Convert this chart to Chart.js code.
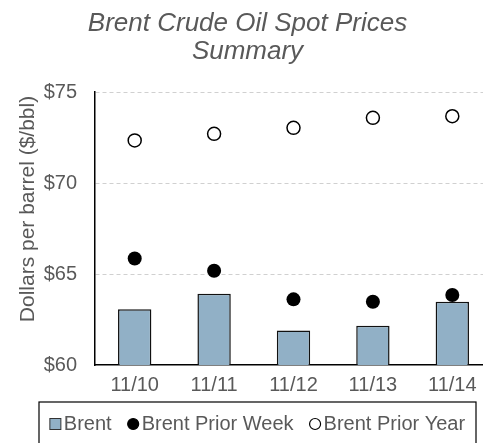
<!DOCTYPE html>
<html>
<head>
<meta charset="utf-8">
<script src="https://cdn.jsdelivr.net/npm/chart.js@4.4.0/dist/chart.umd.min.js"></script>
<style>
  html, body { margin: 0; padding: 0; background: #fff; overflow: hidden; }
  #wrap { width: 483px; height: 443px; overflow: hidden; }
  #wrap div { width: 500px; height: 443px; }
</style>
</head>
<body>
<div id="wrap"><div><canvas id="oilChart"></canvas></div></div>
<script>
// Chart data
const days = ['11/10', '11/11', '11/12', '11/13', '11/14'];
const brent = [63.07, 63.92, 61.90, 62.16, 63.48];
const brentPriorWeek = [65.86, 65.18, 63.61, 63.48, 63.85];
const brentPriorYear = [72.35, 72.71, 73.04, 73.59, 73.68];
const yTicks = [60, 65, 70, 75];
const yTitle = 'Dollars per barrel ($/bbl)';

const textGray = '#595959';
const fontFamily = '"Liberation Sans", Arial, sans-serif';

// Boxed legend drawn under the x axis
const boxedLegend = {
    id: 'boxedLegend',
    afterDraw(chart) {
        const ctx = chart.ctx;
        const top = 402, left = 39, right = 476;
        ctx.save();
        ctx.strokeStyle = '#000';
        ctx.lineWidth = 1.2;
        ctx.strokeRect(left, top, right - left, 60);

        ctx.font = '20px ' + fontFamily;
        ctx.textBaseline = 'middle';
        const widths = chart.data.datasets.map(ds => ctx.measureText(ds.label).width);
        const marker = 11, gapIn = 3, gapOut = 16;
        let total = 0;
        widths.forEach((w, i) => {
            total += marker + gapIn + w + (i < widths.length - 1 ? gapOut : 0);
        });
        let x = (left + right) / 2 - total / 2;
        const y = 424;
        chart.data.datasets.forEach((ds, i) => {
            if (ds.type === 'bar') {
                ctx.fillStyle = ds.backgroundColor;
                ctx.fillRect(x, y - 5.5, marker, marker);
                ctx.strokeStyle = '#333';
                ctx.lineWidth = 1;
                ctx.strokeRect(x, y - 5.5, marker, marker);
            } else {
                ctx.beginPath();
                ctx.arc(x + marker / 2, y, 5.5, 0, Math.PI * 2);
                ctx.fillStyle = ds.pointBackgroundColor;
                ctx.fill();
                ctx.strokeStyle = '#000';
                ctx.lineWidth = 1.2;
                ctx.stroke();
            }
            ctx.fillStyle = textGray;
            ctx.fillText(ds.label, x + marker + gapIn, y);
            x += marker + gapIn + widths[i] + gapOut;
        });
        ctx.restore();
    }
};

// Vertical axis title, sitting a little above the middle of the axis
const axisTitle = {
    id: 'axisTitle',
    afterDraw(chart) {
        const ctx = chart.ctx;
        ctx.save();
        ctx.translate(28, 209);
        ctx.rotate(-Math.PI / 2);
        ctx.font = '21px ' + fontFamily;
        ctx.fillStyle = textGray;
        ctx.textAlign = 'center';
        ctx.textBaseline = 'middle';
        ctx.fillText(yTitle, 0, 0);
        ctx.restore();
    }
};

function initChart() {
    const ctx = document.getElementById('oilChart').getContext('2d');
    new Chart(ctx, {
        data: {
            labels: days,
            datasets: [
                {
                    type: 'bar',
                    label: 'Brent',
                    data: brent,
                    backgroundColor: '#91b0c6',
                    borderColor: '#111',
                    borderWidth: 1.5,
                    barPercentage: 0.42,
                    categoryPercentage: 1.0,
                    order: 3
                },
                {
                    type: 'line',
                    label: 'Brent Prior Week',
                    data: brentPriorWeek,
                    showLine: false,
                    pointRadius: 7,
                    pointBackgroundColor: '#000',
                    pointBorderColor: '#000',
                    pointBorderWidth: 0,
                    order: 1
                },
                {
                    type: 'line',
                    label: 'Brent Prior Year',
                    data: brentPriorYear,
                    showLine: false,
                    pointRadius: 6.5,
                    pointBackgroundColor: '#fff',
                    pointBorderColor: '#000',
                    pointBorderWidth: 1.5,
                    order: 2
                }
            ]
        },
        options: {
            responsive: true,
            maintainAspectRatio: false,
            animation: false,
            layout: { padding: { left: 0, right: 5, top: 0, bottom: 41 } },
            plugins: {
                legend: { display: false },
                tooltip: { enabled: false },
                title: {
                    display: true,
                    text: ['Brent Crude Oil Spot Prices', 'Summary'],
                    color: textGray,
                    font: { family: fontFamily, size: 26, style: 'italic', weight: 'normal', lineHeight: 1.1 },
                    padding: { top: 9, bottom: 26 }
                }
            },
            scales: {
                x: {
                    offset: true,
                    grid: { display: false, drawTicks: false },
                    border: { display: true, color: '#000', width: 1.5 },
                    ticks: {
                        color: textGray,
                        padding: 8,
                        font: { family: fontFamily, size: 20 }
                    },
                    afterFit: scale => { scale.height = 37; }
                },
                y: {
                    min: yTicks[0],
                    max: yTicks[yTicks.length - 1],
                    afterBuildTicks: scale => {
                        scale.ticks = yTicks.map(v => ({ value: v }));
                    },
                    grid: {
                        color: ctx => ctx.tick && ctx.tick.value === yTicks[0] ? 'rgba(0,0,0,0)' : '#d0d0d0',
                        drawTicks: false,
                        lineWidth: 1
                    },
                    border: { display: true, color: '#000', width: 1.5, dash: [4, 3] },
                    ticks: {
                        color: textGray,
                        padding: 18,
                        font: { family: fontFamily, size: 20 },
                        callback: v => '$' + v
                    },
                    afterFit: scale => { scale.width = 95; }
                }
            }
        },
        plugins: [boxedLegend, axisTitle]
    });
}

window.onload = initChart;
</script>
</body>
</html>
